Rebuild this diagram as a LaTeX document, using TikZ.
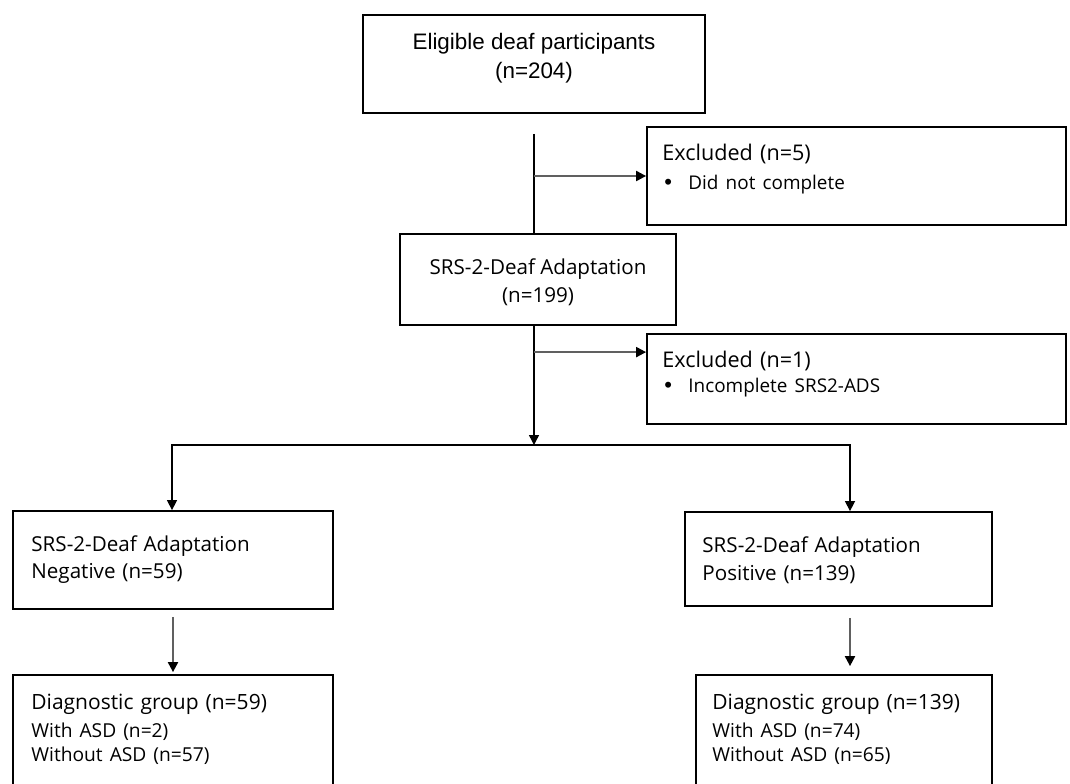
\documentclass[tikz,border=0pt]{standalone}
\usepackage{fontspec}
\setmainfont{Liberation Sans}
\newfontfamily\opensans{Open Sans}
\usetikzlibrary{arrows.meta}

\newcommand{\headfont}{\opensans\fontsize{10.8pt}{14.5pt}\selectfont}
\newcommand{\itemfont}{\fontsize{9.45pt}{14.5pt}\selectfont}
\newcommand{\srsfont}{\opensans\fontsize{10.3pt}{13.8pt}\selectfont}
\newcommand{\diagfont}{\opensans\fontsize{10.5pt}{12pt}\selectfont}
\newcommand{\subfont}{\fontsize{9.6pt}{12pt}\selectfont}
\newcommand{\bul}{\makebox[13pt][l]{\hspace{1pt}{\rmfamily\fontsize{11pt}{11pt}\selectfont •}}}

\begin{document}
\begin{tikzpicture}[x=0.5pt, y=-0.5pt,
        >={Triangle[length=5pt,width=5pt]},
        box/.style={draw, line width=0.9pt, inner sep=0pt},
        txt/.style={inner sep=0pt, text=black},
        flow/.style={line width=0.7pt},
        side/.style={line width=1pt, draw=gray!75!black, -{Triangle[length=5pt,width=5pt,color=black]}}]
    \useasboundingbox (0,0) rectangle (1070,783);
    \clip (0,0) rectangle (1070,783);

    % boxes
    \node[box, minimum width=171pt, minimum height=49pt] (elig) at (534,64) {};
    \node[box, minimum width=209.5pt, minimum height=49pt] (excl1) at (856.5,176) {};
    \node[box, minimum width=138pt, minimum height=45.5pt] (srs) at (538,279.5) {};
    \node[box, minimum width=209.5pt, minimum height=45pt] (excl2) at (856.5,379) {};
    \node[box, minimum width=160pt, minimum height=49pt] (neg) at (173,560) {};
    \node[box, minimum width=153.5pt, minimum height=47pt] (pos) at (838.5,559) {};
    \node[box, minimum width=160pt, minimum height=60pt] (diagneg) at (173,735) {};
    \node[box, minimum width=148pt, minimum height=60pt] (diagpos) at (844,735) {};

    % texts
    \node[txt, align=center, font=\fontsize{11.2pt}{14.5pt}\selectfont] (eligt) at (534,58.5) {Eligible deaf participants\\(n=204)};
    \node[txt, anchor=west, text width=190pt, align=left, font=\headfont] (excl1t) at (662,169.5) {Excluded (n=5)\\{\itemfont\bul Did not complete}};
    \node[txt, align=center, font=\srsfont] (srst) at (538,282) {SRS-2-Deaf Adaptation\\(n=199)};
    \node[txt, anchor=west, text width=190pt, align=left, font=\headfont] (excl2t) at (662,374.5) {Excluded (n=1)\\[-2pt]{\itemfont\bul Incomplete SRS2-ADS}};
    \node[txt, anchor=west, text width=140pt, align=left, font=\srsfont] (negt) at (31,559.5) {SRS-2-Deaf Adaptation\\Negative (n=59)};
    \node[txt, anchor=west, text width=140pt, align=left, font=\srsfont] (post) at (702,560) {SRS-2-Deaf Adaptation\\Positive (n=139)};
    \node[txt, anchor=west, text width=140pt, align=left, font=\diagfont] (diagnegt) at (31,729) {Diagnostic group (n=59)\\[2pt]{\subfont With ASD (n=2)}\\{\subfont Without ASD (n=57)}};
    \node[txt, anchor=west, text width=140pt, align=left, font=\diagfont] (diagpost) at (712,729) {Diagnostic group (n=139)\\[2pt]{\subfont With ASD (n=74)}\\{\subfont Without ASD (n=65)}};

    % connectors
    \coordinate (split) at (534,445);
    \coordinate (lft) at (172,445);
    \coordinate (rgt) at (850,445);
    \coordinate (excl2in) at ([yshift=-9.5pt]excl2.north west);
    \draw[flow] ([yshift=-10pt]elig.south) -- (elig.south |- srs.north);
    \draw[side] (elig.south |- excl1.west) -- (excl1.west);
    \draw[flow,->] (split |- srs.south) -- (split);
    \draw[side] (split |- excl2in) -- (excl2in);
    \draw[flow,<->] (lft |- neg.north) -- (lft) -- (rgt) -- (rgt |- pos.north);
    \draw[side] ([yshift=-3.5pt]neg.south) -- ([yshift=1pt]diagneg.north);
    \draw[side] ([yshift=-5.5pt]rgt |- pos.south) -- ([yshift=4pt]rgt |- diagpos.north);
\end{tikzpicture}
\end{document}
